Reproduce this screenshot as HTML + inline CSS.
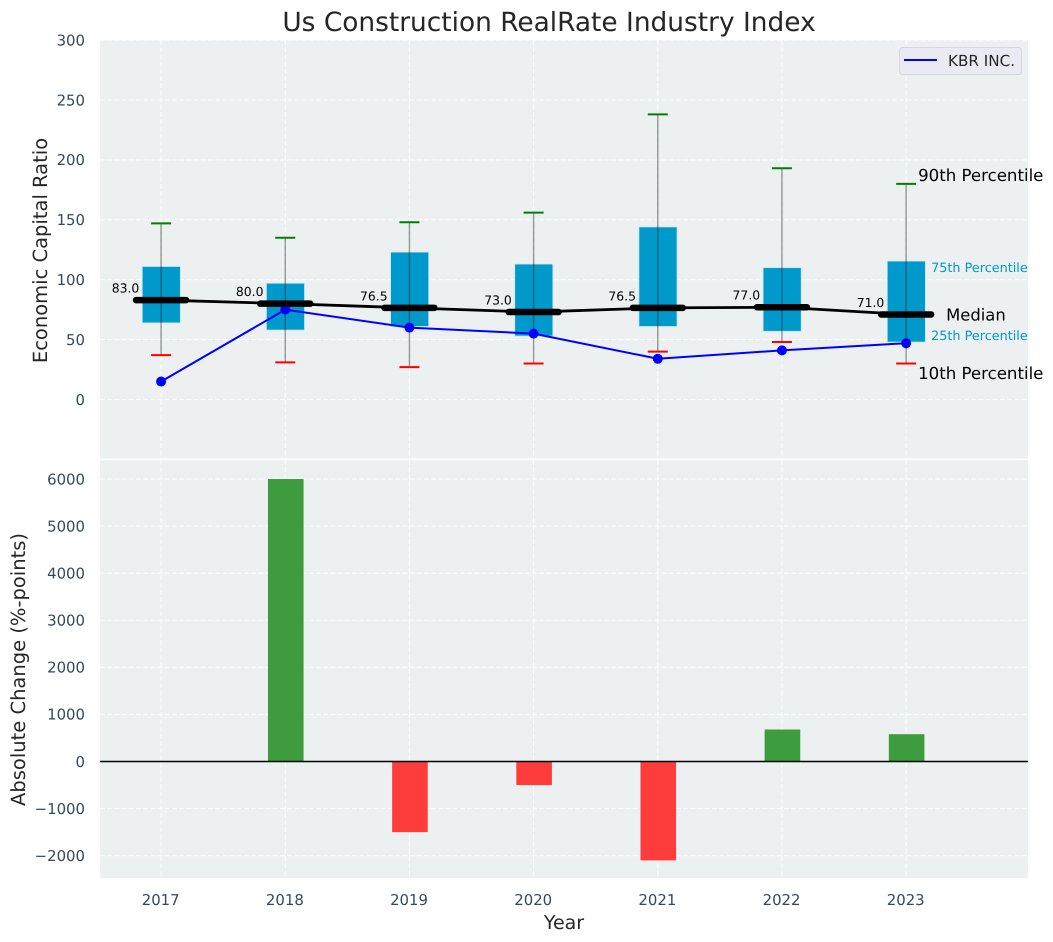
<!DOCTYPE html>
<html lang="en">
<head>
<meta charset="utf-8">
<title>Us Construction RealRate Industry Index</title>
<style>
html,body{margin:0;padding:0;background:#fff;}
svg{display:block;font-family:"DejaVu Sans","Liberation Sans",sans-serif;text-rendering:geometricPrecision;}
</style>
</head>
<body>
<svg id="chart" xmlns="http://www.w3.org/2000/svg" width="1053" height="942" viewBox="0 0 1053 942"></svg>
<script>
const years = [2017, 2018, 2019, 2020, 2021, 2022, 2023];
const p90 = [147, 135, 148, 156, 238, 193, 180];
const p75 = [111, 97, 123, 113, 144, 110, 115.5];
const medians = [83, 80, 76.5, 73, 76.5, 77, 71];
const p25 = [64, 58, 61, 53, 61, 57, 48];
const p10 = [37, 31, 27, 30, 40, 48, 30];
const kbr = [15, 75, 60, 55, 34, 41, 47];
const changes = [0, 6000, -1500, -500, -2100, 680, 580];
const topTicks = [0, 50, 100, 150, 200, 250, 300];
const bottomTicks = [-2000, -1000, 0, 1000, 2000, 3000, 4000, 5000, 6000];

const NS = 'http://www.w3.org/2000/svg';
const svg = document.getElementById('chart');
const L = 100, R = 1028, T1 = 40, B1 = 458.3, T2 = 460.2, B2 = 878;
const TICK = '#34495e', INK = '#262626', BOX = '#0099cc';

function xAt(v) { return 161.1 + (v - 2017) * 124.17; }
function yTop(v) { return 399.5 - v * 1.198; }
function yBot(v) { return 761.5 - v * 0.04708; }

function el(tag, attrs, text) {
  const n = document.createElementNS(NS, tag);
  for (const k in attrs) n.setAttribute(k, attrs[k]);
  if (text !== undefined) n.textContent = text;
  svg.appendChild(n);
  return n;
}
function fmt(v) { return String(v).replace('-', '\u2212'); }

let n;
n = el('rect', {x: L, y: T1, width: R - L, height: B1 - T1, fill: '#ecf0f1'});


n = el('rect', {x: L, y: T2, width: R - L, height: B2 - T2, fill: '#ecf0f1'});



const dash = '5 2.2';
const GRID = 'rgba(255,255,255,0.85)';
topTicks.forEach(t => {
  n = el('line', {x1: L, x2: R, y1: yTop(t), y2: yTop(t), stroke: GRID, 'stroke-width': 1.1, 'stroke-dasharray': dash});
  
  
  n = el('text', {x: 85, y: yTop(t) + 5.3, 'text-anchor': 'end', 'font-size': 14.9, fill: TICK}, fmt(t));
  
  
});
bottomTicks.forEach(t => {
  n = el('line', {x1: L, x2: R, y1: yBot(t), y2: yBot(t), stroke: GRID, 'stroke-width': 1.1, 'stroke-dasharray': dash});
  
  
  n = el('text', {x: 85, y: yBot(t) + 5.3, 'text-anchor': 'end', 'font-size': 14.9, fill: TICK}, fmt(t));
  
  
});
years.forEach(y => {
  n = el('line', {x1: xAt(y), x2: xAt(y), y1: T1, y2: B1, stroke: GRID, 'stroke-width': 1.1, 'stroke-dasharray': dash});
  
  
  n = el('line', {x1: xAt(y), x2: xAt(y), y1: T2, y2: B2, stroke: GRID, 'stroke-width': 1.1, 'stroke-dasharray': dash});
  
  
  n = el('text', {x: xAt(y) - 0.4, y: 905, 'text-anchor': 'middle', 'font-size': 14.9, fill: TICK}, y);
  
  
});

/* boxes */
years.forEach((y, i) => {
  const hw = 19;
  n = el('rect', {x: xAt(y) - hw + 0.2, y: yTop(p75[i]), width: hw * 2, height: yTop(p25[i]) - yTop(p75[i]), fill: BOX, stroke: '#bfe3f0', 'stroke-width': 0.7});
  
  
});
/* whiskers */
years.forEach((y, i) => {
  n = el('line', {x1: xAt(y), x2: xAt(y), y1: yTop(p90[i]), y2: yTop(p10[i]), stroke: 'rgba(30,30,30,0.45)', 'stroke-width': 1.4});
  
  
  n = el('line', {x1: xAt(y) - 10, x2: xAt(y) + 10, y1: yTop(p90[i]), y2: yTop(p90[i]), stroke: '#008000', 'stroke-width': 2});
  
  
  n = el('line', {x1: xAt(y) - 10, x2: xAt(y) + 10, y1: yTop(p10[i]), y2: yTop(p10[i]), stroke: '#ff0000', 'stroke-width': 2});
  
  
});
/* KBR series */
n = el('polyline', {points: years.map((y, i) => xAt(y) + ',' + yTop(kbr[i])).join(' '), fill: 'none', stroke: '#0000ff', 'stroke-width': 2});


years.forEach((y, i) => {
  n = el('circle', {cx: xAt(y), cy: yTop(kbr[i]), r: 5, fill: '#0000ff'});
  
  
});
/* median line */
n = el('polyline', {points: years.map((y, i) => xAt(y) + ',' + yTop(medians[i])).join(' '), fill: 'none', stroke: '#000', 'stroke-width': 2.8});


years.forEach((y, i) => {
  n = el('line', {x1: xAt(y) - 25, x2: xAt(y) + 25, y1: yTop(medians[i]), y2: yTop(medians[i]), stroke: '#000', 'stroke-width': 6.5, 'stroke-linecap': 'round'});
  
  
  n = el('text', {x: xAt(y) - 21.8, y: yTop(medians[i]) - 7.6, 'text-anchor': 'end', 'font-size': 12.4, fill: '#000'}, medians[i].toFixed(1));
  
  
});

/* annotations on the last year */
const last = years.length - 1;
const lx = xAt(years[last]);
n = el('text', {x: lx + 12, y: yTop(p90[last]) - 3, 'font-size': 16.6, fill: '#000'}, '90th Percentile');


n = el('text', {x: lx + 25, y: yTop(p75[last]) + 10.8, 'font-size': 12.8, fill: BOX}, '75th Percentile');


n = el('text', {x: lx + 40, y: yTop(medians[last]) + 6, 'font-size': 16.4, fill: '#000'}, 'Median');


n = el('text', {x: lx + 25, y: yTop(p25[last]) - 1.8, 'font-size': 12.8, fill: BOX}, '25th Percentile');


n = el('text', {x: lx + 12, y: yTop(p10[last]) + 15.3, 'font-size': 16.6, fill: '#000'}, '10th Percentile');



/* change bars */
years.forEach((y, i) => {
  const v = changes[i];
  if (v === 0) return;
  const top = Math.min(yBot(v), yBot(0));
  n = el('rect', {x: xAt(y) - 17.3, y: top, width: 35.6, height: Math.abs(yBot(v) - yBot(0)), fill: v > 0 ? '#3d9c3d' : '#ff3c3c'});
  
  
});
n = el('line', {x1: L, x2: R, y1: yBot(0), y2: yBot(0), stroke: '#000', 'stroke-width': 1.4});



/* legend */
n = el('rect', {x: 899.5, y: 47.5, width: 122, height: 27, rx: 3, fill: '#eaeaf2', stroke: '#d6d6dc', 'stroke-width': 1});


n = el('line', {x1: 904, x2: 937, y1: 60, y2: 60, stroke: '#0000ff', 'stroke-width': 2});


n = el('text', {x: 948, y: 66, 'font-size': 15.2, fill: INK}, 'KBR INC.');



/* titles */
n = el('text', {x: 549, y: 31, 'text-anchor': 'middle', 'font-size': 26.4, fill: INK}, 'Us Construction RealRate Industry Index');


n = el('text', {x: 0, y: 0, 'text-anchor': 'middle', 'font-size': 19.5, fill: INK, transform: 'translate(47 250.5) rotate(-90)'}, 'Economic Capital Ratio');


n = el('text', {x: 0, y: 0, 'text-anchor': 'middle', 'font-size': 19.5, fill: INK, transform: 'translate(25 669.5) rotate(-90)'}, 'Absolute Change (%-points)');


n = el('text', {x: 564, y: 929, 'text-anchor': 'middle', 'font-size': 19, fill: INK}, 'Year');


</script>
</body>
</html>
